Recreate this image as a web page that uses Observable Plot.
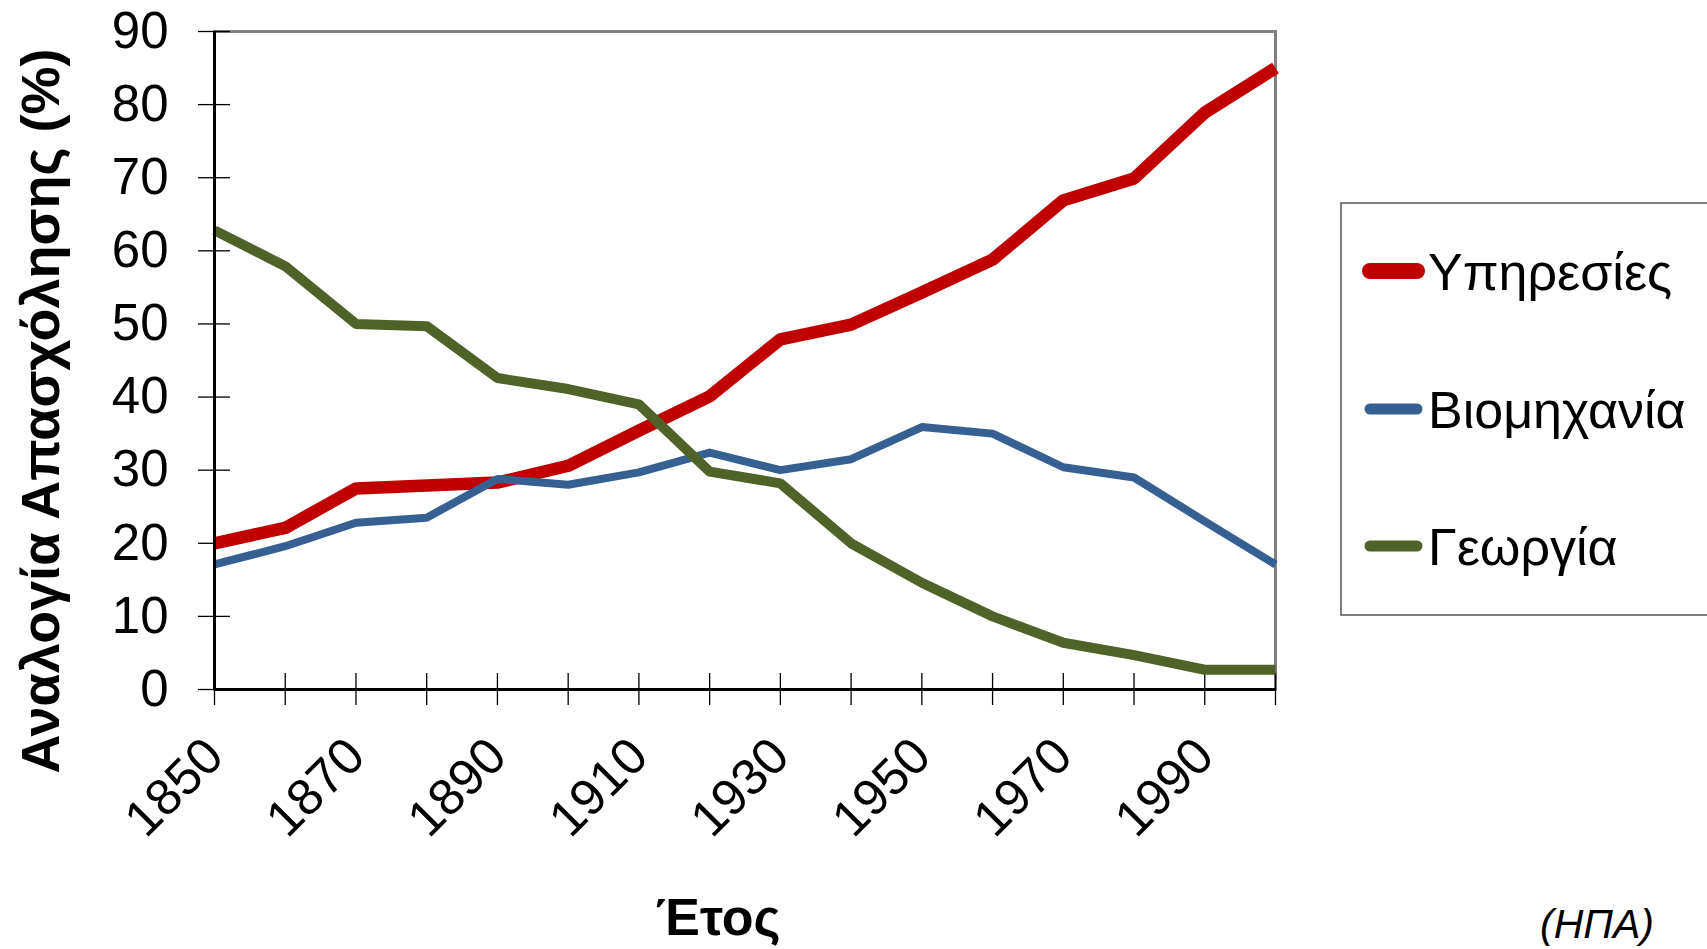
<!DOCTYPE html>
<html>
<head>
<meta charset="utf-8">
<script src="https://cdn.jsdelivr.net/npm/d3@7"></script>
<script src="https://cdn.jsdelivr.net/npm/@observablehq/plot@0.6"></script>
<style>
  html, body { margin: 0; padding: 0; background: #fff; }
  #wrap { position: relative; width: 1707px; height: 949px; overflow: hidden; background: #fff; font-family: "Liberation Sans", Arial, sans-serif; }
  #chart, #overlay { position: absolute; left: 0; top: 0; }
</style>
</head>
<body>
<div id="wrap">
  <div id="chart"></div>
  <svg id="overlay" width="1707" height="949"></svg>
</div>
<script>
// ---- data ----
const years = [1850, 1860, 1870, 1880, 1890, 1900, 1910, 1920, 1930, 1940, 1950, 1960, 1970, 1980, 1990, 2000];
const services    = [20.0, 22.1, 27.5, 27.9, 28.3, 30.6, 35.4, 40.1, 47.9, 49.9, 54.3, 58.8, 66.9, 69.9, 78.9, 85.0];
const industry    = [17.1, 19.6, 22.8, 23.5, 28.8, 28.0, 29.7, 32.4, 30.0, 31.5, 35.9, 35.0, 30.4, 29.0, 23.0, 17.1];
const agriculture = [62.8, 57.9, 50.0, 49.7, 42.6, 41.1, 39.0, 29.8, 28.2, 20.0, 14.6, 10.0, 6.4, 4.7, 2.7, 2.7];
const seriesNames = ["Υπηρεσίες", "Βιομηχανία", "Γεωργία"];
const seriesColors = ["#C00000", "#376092", "#4F6228"];
const seriesWidths = [12.5, 8, 10];
const yTicks = [0, 10, 20, 30, 40, 50, 60, 70, 80, 90];
const xTickYears = [1850, 1860, 1870, 1880, 1890, 1900, 1910, 1920, 1930, 1940, 1950, 1960, 1970, 1980, 1990, 2000];
const xLabelYears = [1850, 1870, 1890, 1910, 1930, 1950, 1970, 1990];
const yTitle = "Αναλογία Απασχόλησης (%)";
const xTitle = "Έτος";
const note = "(ΗΠΑ)";

// ---- layout ----
const W = 1707, H = 949;
const mL = 214, mR = 432, mT = 31, mB = 260;
const plotW = W - mL - mR, plotH = H - mT - mB;

const valuesBySeries = [services, industry, agriculture];
const rows = [];
seriesNames.forEach((s, i) => years.forEach((yr, j) => rows.push({series: s, year: yr, value: valuesBySeries[i][j]})));

const lineMarks = seriesNames.map((s, i) =>
  Plot.line(rows.filter(r => r.series === s), {
    x: "year", y: "value", stroke: seriesColors[i], strokeWidth: seriesWidths[i],
    strokeLinecap: "butt", strokeLinejoin: "round"
  })
);

const chart = Plot.plot({
  width: W, height: H,
  marginLeft: mL, marginRight: mR, marginTop: mT, marginBottom: mB,
  style: { fontFamily: '"Liberation Sans", Arial, sans-serif', fontSize: "51px", color: "#000", background: "transparent", overflow: "visible" },
  x: { domain: [1850, 2000], label: null },
  y: { domain: [0, 90], label: null },
  marks: [
    Plot.frame({ stroke: "#808080", strokeWidth: 3 }),
    Plot.tickY(yTicks, { y: d => d, insetRight: plotW - 32, dx: -16, stroke: "#000", strokeWidth: 1.3 }),
    Plot.tickX(xTickYears, { x: d => d, insetTop: plotH - 32, dy: 16, stroke: "#000", strokeWidth: 1.3 }),
    Plot.axisY({ ticks: yTicks, tickSize: 0, tickPadding: 46, label: null, fontSize: 51 }),
    Plot.axisX({ ticks: xLabelYears, tickSize: 0, tickPadding: 58, tickRotate: -45, tickFormat: d => String(d), label: null, fontSize: 51 }),
    ...lineMarks,
    Plot.ruleX([1850], { stroke: "#000", strokeWidth: 3 }),
    Plot.ruleY([0], { stroke: "#000", strokeWidth: 3 })
  ]
});
document.getElementById("chart").appendChild(chart);

// ---- titles and legend ----
const ov = d3.select("#overlay").style("font-family", '"Liberation Sans", Arial, sans-serif');
ov.append("text")
  .attr("transform", "translate(40,411) rotate(-90)")
  .attr("text-anchor", "middle").attr("dy", "0.36em")
  .attr("font-weight", "bold").attr("font-size", 54).attr("fill", "#000")
  .text(yTitle);
ov.append("text")
  .attr("x", 718).attr("y", 935).attr("text-anchor", "middle")
  .attr("font-weight", "bold").attr("font-size", 52).attr("fill", "#000")
  .text(xTitle);
ov.append("text")
  .attr("x", 1597).attr("y", 938).attr("text-anchor", "middle")
  .attr("font-style", "italic").attr("font-size", 41).attr("fill", "#000")
  .text(note);

const lg = ov.append("g");
lg.append("rect").attr("x", 1341).attr("y", 203).attr("width", 400).attr("height", 412)
  .attr("fill", "#fff").attr("stroke", "#555").attr("stroke-width", 1.5);
const legendY = [271, 409, 546];
const legendSwatchW = [16, 11, 11];
seriesNames.forEach((s, i) => {
  lg.append("line").attr("x1", 1370).attr("x2", 1417).attr("y1", legendY[i]).attr("y2", legendY[i])
    .attr("stroke", seriesColors[i]).attr("stroke-width", legendSwatchW[i]).attr("stroke-linecap", "round");
  lg.append("text").attr("x", 1428).attr("y", legendY[i]).attr("dy", "0.36em")
    .attr("font-size", 52).attr("fill", "#000").text(s);
});
</script>
</body>
</html>
